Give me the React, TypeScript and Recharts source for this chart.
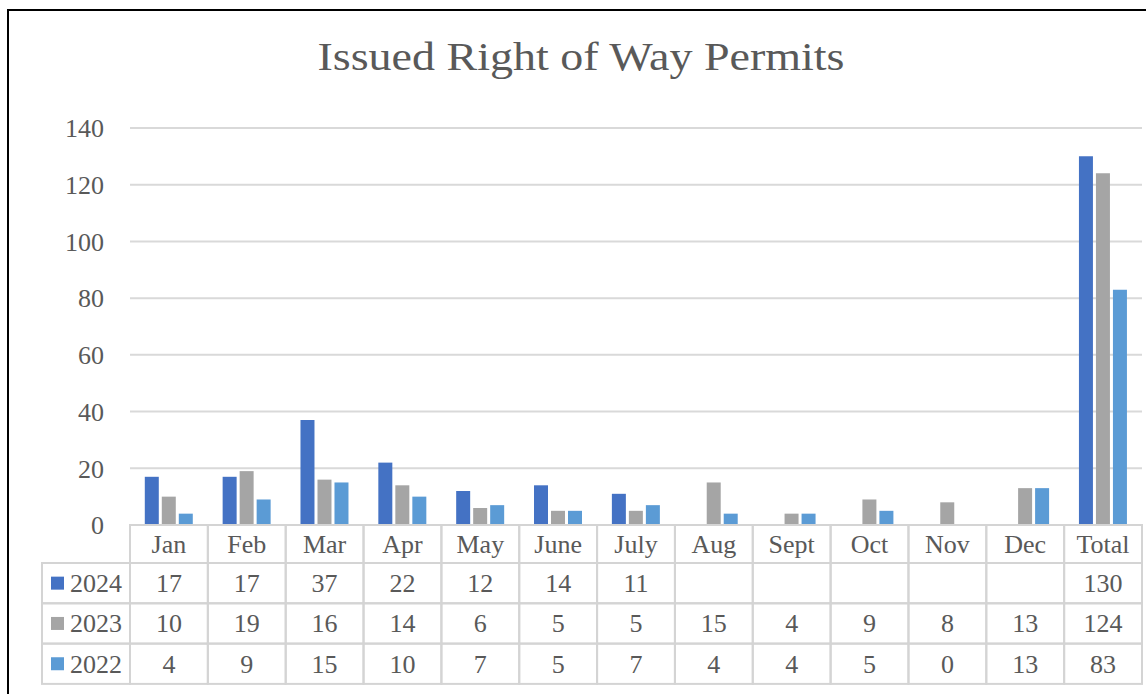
import { BarChart, Bar, XAxis, YAxis, CartesianGrid } from 'recharts';

const months = ['Jan', 'Feb', 'Mar', 'Apr', 'May', 'June', 'July', 'Aug', 'Sept', 'Oct', 'Nov', 'Dec', 'Total'];
const permits2024 = [17, 17, 37, 22, 12, 14, 11, null, null, null, null, null, 130];
const permits2023 = [10, 19, 16, 14, 6, 5, 5, 15, 4, 9, 8, 13, 124];
const permits2022 = [4, 9, 15, 10, 7, 5, 7, 4, 4, 5, 0, 13, 83];
const yTicks = [0, 20, 40, 60, 80, 100, 120, 140];

const series = [
    { key: 'y2024', label: '2024', color: '#4472C4', values: permits2024 },
    { key: 'y2023', label: '2023', color: '#A5A5A5', values: permits2023 },
    { key: 'y2022', label: '2022', color: '#5B9BD5', values: permits2022 },
];

const data = months.map((m, i) => ({
    month: m,
    y2024: permits2024[i],
    y2023: permits2023[i],
    y2022: permits2022[i],
}));

const W = 1146;
const H = 694;
const PLOT_LEFT = 130;
const PLOT_RIGHT = 1142;
const TABLE_TOP = 525;
const HEAD_H = 38;
const ROW_H = 40.3;
const BAND = (PLOT_RIGHT - PLOT_LEFT) / months.length;
const LEGEND_LEFT = 42;
const FONT = '"Liberation Serif", "Times New Roman", serif';
const TEXT = '#595959';
const LINE = '#d4d4d4';

function TableColumn(props: any) {
    const { x, index, payload } = props;
    const left = x - BAND / 2;
    return (
        <g>
            {index === 0 &&
                series.map((s, r) => {
                    const top = TABLE_TOP + HEAD_H + r * ROW_H;
                    return (
                        <g key={s.key}>
                            <rect x={LEGEND_LEFT} y={top} width={PLOT_LEFT - LEGEND_LEFT} height={ROW_H} fill="none" stroke={LINE} strokeWidth={2} />
                            <rect x={51} y={top + ROW_H / 2 - 6.5} width={13} height={13} fill={s.color} />
                            <text x={70} y={top + ROW_H / 2 + 9} fontSize={26} fontFamily={FONT} fill={TEXT}>
                                {s.label}
                            </text>
                        </g>
                    );
                })}
            <rect x={left} y={TABLE_TOP} width={BAND} height={HEAD_H} fill="none" stroke={LINE} strokeWidth={2} />
            <text x={x} y={TABLE_TOP + HEAD_H / 2 + 9} textAnchor="middle" fontSize={26} fontFamily={FONT} fill={TEXT}>
                {payload.value}
            </text>
            {series.map((s, r) => {
                const top = TABLE_TOP + HEAD_H + r * ROW_H;
                const v = s.values[index];
                return (
                    <g key={s.key}>
                        <rect x={left} y={top} width={BAND} height={ROW_H} fill="none" stroke={LINE} strokeWidth={2} />
                        <text x={x} y={top + ROW_H / 2 + 9} textAnchor="middle" fontSize={26} fontFamily={FONT} fill={TEXT}>
                            {v === null ? '' : v}
                        </text>
                    </g>
                );
            })}
        </g>
    );
}

export default function App() {
    return (
        <div
            style={{
                position: 'absolute',
                left: 7,
                top: 9,
                width: W - 7,
                height: H - 9,
                boxSizing: 'border-box',
                borderLeft: '2px solid #000',
                borderTop: '2px solid #000',
                overflow: 'hidden',
                background: '#fff',
            }}
        >
            <div style={{ position: 'absolute', left: -9, top: -11, width: W, height: H }}>
                <svg width={W} height={90} style={{ position: 'absolute', left: 0, top: 0 }}>
                    <text
                        transform="translate(581,70) scale(1.18,1)"
                        x={0}
                        y={0}
                        textAnchor="middle"
                        fontSize={39}
                        fontFamily={FONT}
                        fill={TEXT}
                    >
                        Issued Right of Way Permits
                    </text>
                </svg>
                <div style={{ position: 'absolute', left: 0, top: 0 }}>
                    <BarChart
                        width={W}
                        height={H}
                        data={data}
                        margin={{ top: 128, right: W - PLOT_RIGHT, bottom: 0, left: 0 }}
                        barCategoryGap="19%"
                        barGap={3}
                    >
                        <CartesianGrid vertical={false} stroke="#d9d9d9" strokeWidth={2} />
                        <YAxis
                            width={PLOT_LEFT}
                            domain={[0, 140]}
                            ticks={yTicks}
                            axisLine={false}
                            tickLine={false}
                            tickSize={0}
                            tickMargin={26}
                            tick={{ fontSize: 26, fontFamily: FONT, fill: TEXT }}
                        />
                        <XAxis
                            dataKey="month"
                            height={H - TABLE_TOP}
                            axisLine={false}
                            tickLine={false}
                            interval={0}
                            tick={<TableColumn />}
                        />
                        {series.map((s) => (
                            <Bar key={s.key} dataKey={s.key} fill={s.color} isAnimationActive={false} />
                        ))}
                    </BarChart>
                </div>
            </div>
        </div>
    );
}
